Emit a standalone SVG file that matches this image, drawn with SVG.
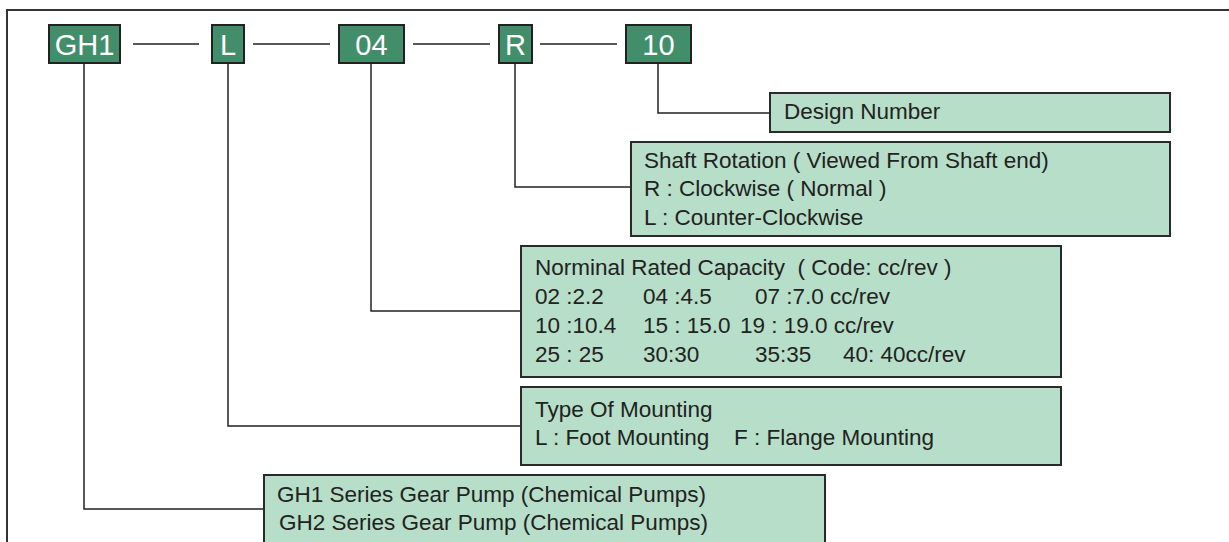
<svg xmlns="http://www.w3.org/2000/svg" width="1229" height="542" viewBox="0 0 1229 542">
<style>
.code{fill:#438e6a;stroke:#222;stroke-width:2}
.desc{fill:#b7dec8;stroke:#2a2a2a;stroke-width:2}
.ct{font-family:"Liberation Sans",Arial,sans-serif;font-size:29px;fill:#fff;text-anchor:middle}
.t{font-family:"Liberation Sans",Arial,sans-serif;font-size:22.5px;fill:#222;white-space:pre}
.ln{fill:none;stroke:#222;stroke-width:1.5}
</style>
<rect width="1229" height="542" fill="#fff"/>
<path d="M7,542 V10 H1229" fill="none" stroke="#333" stroke-width="2"/>
<g id="connectors">
<path class="ln" d="M133,44 H199 M253,44 H330 M413,44 H490 M540,44 H617"/>
<path class="ln" d="M658,63 V113 H770"/>
<path class="ln" d="M515,63 V187 H631"/>
<path class="ln" d="M371,63 V311 H521"/>
<path class="ln" d="M228,63 V426 H521"/>
<path class="ln" d="M84,63 V509 H264"/>
</g>
<g id="code-gh1"><rect class="code" x="49" y="25" width="71" height="38"/><text class="ct" x="84.5" y="55">GH1</text></g>
<g id="code-l"><rect class="code" x="212" y="25" width="32" height="38"/><text class="ct" x="228" y="55">L</text></g>
<g id="code-04"><rect class="code" x="339" y="25" width="65" height="38"/><text class="ct" x="371.5" y="55">04</text></g>
<g id="code-r"><rect class="code" x="499" y="25" width="33" height="38"/><text class="ct" x="515.5" y="55">R</text></g>
<g id="code-10"><rect class="code" x="626" y="25" width="65" height="38"/><text class="ct" x="658.5" y="55">10</text></g>
<g id="design"><rect class="desc" x="770" y="93" width="400" height="39"/><text class="t" x="784" y="119">Design Number</text></g>
<g id="rotation"><rect class="desc" x="631" y="142" width="539" height="94"/>
<text class="t" x="644" y="168">Shaft Rotation ( Viewed From Shaft end)</text>
<text class="t" x="644" y="196">R : Clockwise ( Normal )</text>
<text class="t" x="644" y="225">L : Counter-Clockwise</text></g>
<g id="capacity"><rect class="desc" x="521" y="246" width="540" height="131"/>
<text class="t" x="535" y="275" xml:space="preserve">Norminal Rated Capacity  ( Code: cc/rev )</text>
<text class="t" y="304"><tspan x="535">02 :2.2</tspan><tspan x="643">04 :4.5</tspan><tspan x="755">07 :7.0 cc/rev</tspan></text>
<text class="t" y="333"><tspan x="535">10 :10.4</tspan><tspan x="643">15 : 15.0</tspan><tspan x="740">19 : 19.0 cc/rev</tspan></text>
<text class="t" y="362"><tspan x="535">25 : 25</tspan><tspan x="643">30:30</tspan><tspan x="755">35:35</tspan><tspan x="843">40: 40cc/rev</tspan></text></g>
<g id="mounting"><rect class="desc" x="521" y="387" width="540" height="78"/>
<text class="t" x="535" y="417">Type Of Mounting</text>
<text class="t" y="445"><tspan x="535">L : Foot Mounting</tspan><tspan x="734">F : Flange Mounting</tspan></text></g>
<g id="series"><rect class="desc" x="264" y="475" width="561" height="70"/>
<text class="t" x="277" y="502">GH1 Series Gear Pump (Chemical Pumps)</text>
<text class="t" x="279" y="530">GH2 Series Gear Pump (Chemical Pumps)</text></g>
</svg>
